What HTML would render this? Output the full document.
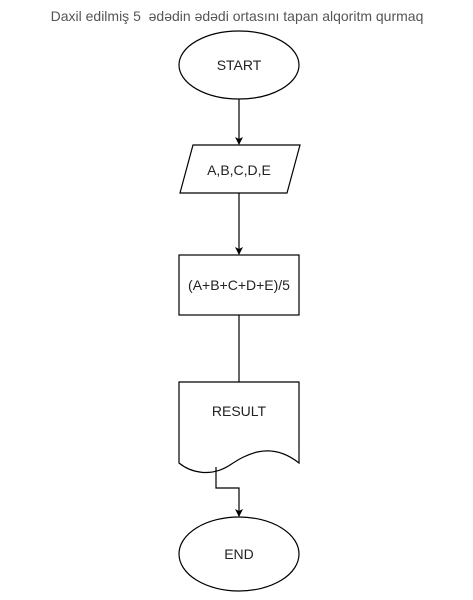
<!DOCTYPE html>
<html><head><style>body{margin:0;background:#fff}</style></head><body>
<svg width="473" height="595" xmlns="http://www.w3.org/2000/svg" font-family="Liberation Sans, Arial, sans-serif">
<defs><marker id="a" markerWidth="8" markerHeight="8" refX="7" refY="4" orient="auto" markerUnits="userSpaceOnUse"><path d="M0,0 L8,4 L0,8 L2,4 z" fill="#000"/></marker></defs>
<text x="237" y="21" text-anchor="middle" font-size="14" fill="#555" xml:space="preserve" style="white-space:pre">Daxil edilmiş 5  ədədin ədədi ortasını tapan alqoritm qurmaq</text>
<g fill="#fff" stroke="#000" stroke-width="1.2">
<ellipse cx="239" cy="65" rx="60" ry="34"/>
<polygon points="193,145 300,145 287,193 180,193"/>
<rect x="179" y="255" width="120" height="60"/>
<path d="M179,382 H299 V463 C270,440 245,455 230,465 C210,478 190,472 179,463 Z"/>
<ellipse cx="239" cy="554" rx="60" ry="37"/>
</g>
<g stroke="#000" stroke-width="1.2" fill="none">
<line x1="239" y1="99" x2="239" y2="144" marker-end="url(#a)"/>
<line x1="239" y1="193" x2="239" y2="254" marker-end="url(#a)"/>
<line x1="239" y1="315" x2="239" y2="382"/>
<polyline points="216,467 216,488 239,488 239,516" marker-end="url(#a)"/>
</g>
<g font-size="14" text-anchor="middle" fill="#222">
<text x="239" y="70">START</text>
<text x="239" y="175">A,B,C,D,E</text>
<text x="239" y="290">(A+B+C+D+E)/5</text>
<text x="239" y="416">RESULT</text>
<text x="239" y="559">END</text>
</g>
</svg>
</body></html>
